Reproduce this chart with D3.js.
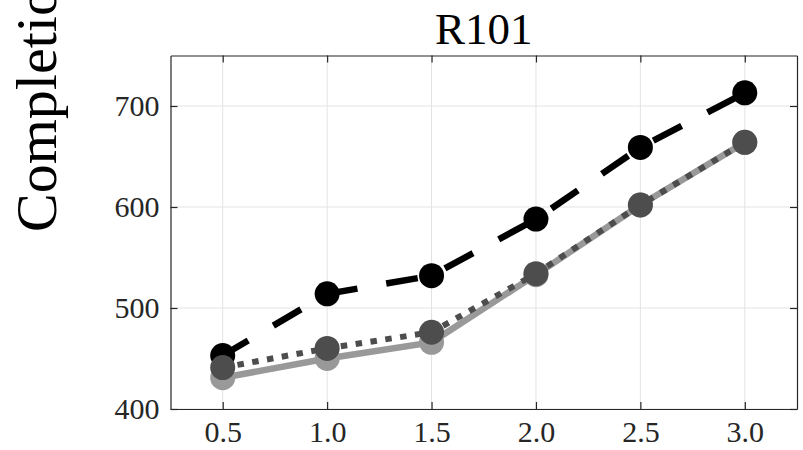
<!DOCTYPE html>
<html><head><meta charset="utf-8">
<script src="https://cdn.jsdelivr.net/npm/d3@7"></script>
<style>
html,body{margin:0;padding:0;background:#fff;}
svg{display:block;font-family:"Liberation Serif","Times New Roman",serif;}
</style></head>
<body><svg id="chart" width="803" height="450"></svg>
<script>
const title = "R101";
const yLabel = "Completion Time";
const xValues = [0.5, 1.0, 1.5, 2.0, 2.5, 3.0];
const xTicks = [0.5, 1.0, 1.5, 2.0, 2.5, 3.0];
const yTicks = [400, 500, 600, 700];
const seriesDashed = [453, 514, 532, 588, 659, 713];
const seriesSolid  = [431, 450, 466, 533, 602, 664];
const seriesDotted = [441, 460, 476, 534, 602, 664];

const svg = d3.select("#chart");
const L = 170.5, R = 797, T = 55.5, B = 409;
const x = d3.scaleLinear().domain([0.25, 3.25]).range([L, R]);
const y = d3.scaleLinear().domain([400, 750]).range([B, T]);
const axisColor = "#262626";

// grid
const grid = svg.append("g");
grid.selectAll(".gx").data(xTicks).enter().append("line")
  .attr("x1", d => x(d)).attr("x2", d => x(d)).attr("y1", T).attr("y2", B)
  .attr("stroke", "#e3e3e3").attr("stroke-width", 1);
grid.selectAll(".gy").data(yTicks).enter().append("line")
  .attr("y1", d => y(d)).attr("y2", d => y(d)).attr("x1", L).attr("x2", R)
  .attr("stroke", "#e3e3e3").attr("stroke-width", 1);

// axes (ticks inward on all sides)
const tl = 7;
const fmt = d3.format(".1f");
const xb = svg.append("g").attr("transform", `translate(0,${B})`)
  .call(d3.axisBottom(x).tickValues(xTicks).tickFormat(fmt).tickSizeInner(-tl).tickSizeOuter(0).tickPadding(12));
const xt = svg.append("g").attr("transform", `translate(0,${T})`)
  .call(d3.axisTop(x).tickValues(xTicks).tickFormat("").tickSizeInner(-tl).tickSizeOuter(0));
const yl = svg.append("g").attr("transform", `translate(${L},0)`)
  .call(d3.axisLeft(y).tickValues(yTicks).tickFormat(d3.format("d")).tickSizeInner(-tl).tickSizeOuter(0).tickPadding(11));
const yr = svg.append("g").attr("transform", `translate(${R},0)`)
  .call(d3.axisRight(y).tickValues(yTicks).tickFormat("").tickSizeInner(-tl).tickSizeOuter(0));
[xb, xt, yl, yr].forEach(g => {
  g.select(".domain").attr("stroke", axisColor).attr("stroke-width", 1.2);
  g.selectAll(".tick line").attr("stroke", axisColor).attr("stroke-width", 1.2);
  g.selectAll(".tick text").attr("fill", "#262626").attr("font-size", 30)
    .attr("font-family", "'Liberation Serif', serif");
});
xb.selectAll(".tick text").attr("dy", "0.71em");

// series
const line = d3.line().x(d => x(d[0])).y(d => y(d[1]));
function drawSeries(vals, color, width, dash, offset, mColor) {
  const pts = xValues.map((v, i) => [v, vals[i]]);
  svg.append("path").datum(pts).attr("d", line)
    .attr("fill", "none").attr("stroke", color).attr("stroke-width", width)
    .attr("stroke-dasharray", dash).attr("stroke-dashoffset", offset)
    .attr("stroke-linejoin", "miter");
  svg.append("g").selectAll("circle").data(pts).enter().append("circle")
    .attr("cx", d => x(d[0])).attr("cy", d => y(d[1])).attr("r", 12.5)
    .attr("fill", mColor);
}
drawSeries(seriesDashed, "#000000", 6.5, "32,29.2", 2.4, "#000000");
drawSeries(seriesSolid, "#999999", 6.5, null, 0, "#999999");
drawSeries(seriesDotted, "#4d4d4d", 6, "6.5,8.5", 0, "#4d4d4d");

// title
svg.append("text").attr("x", (L + R) / 2).attr("y", 43.5)
  .attr("text-anchor", "middle").attr("font-size", 45).attr("fill", "#000")
  .text(title);

// y label
svg.append("text").attr("transform", "translate(56,232) rotate(-90)")
  .attr("text-anchor", "start").attr("font-size", 58).attr("fill", "#000")
  .text(yLabel);
</script></body></html>
